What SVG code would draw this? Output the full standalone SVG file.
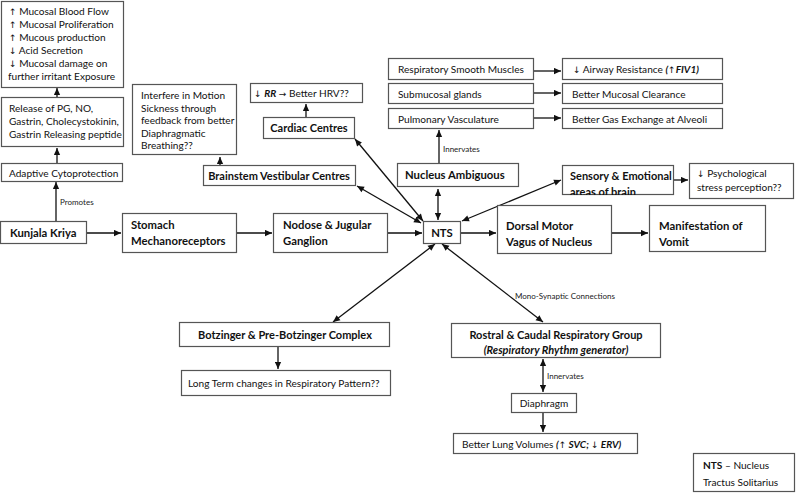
<svg xmlns="http://www.w3.org/2000/svg" width="796" height="493" viewBox="0 0 796 493">
<defs>
<style>
.box{fill:#fff;stroke:#555;stroke-width:1.2}
.t{font-family:Lato,"Liberation Sans",sans-serif;font-size:10.1px;fill:#111}
.b{font-family:Lato,"Liberation Sans",sans-serif;font-size:11.3px;font-weight:bold;fill:#111}
.bs{font-family:Lato,"Liberation Sans",sans-serif;font-size:11px;font-weight:bold;fill:#111}
.sm{font-family:Lato,"Liberation Sans",sans-serif;font-size:8px;fill:#222}
.bi{font-weight:bold;font-style:italic}
.ar{font-family:"DejaVu Sans",sans-serif;font-size:9px;font-weight:normal;font-style:normal}
.c{stroke:#111;stroke-width:1.3;fill:none}
.a{marker-end:url(#ah)}
.d{marker-end:url(#ah);marker-start:url(#ah)}
</style>
<marker id="ah" viewBox="0 0 10 10" refX="10" refY="5" markerWidth="8" markerHeight="7" markerUnits="userSpaceOnUse" orient="auto-start-reverse">
<path d="M0,0.5 L10,5 L0,9.5 z" fill="#111"/>
</marker>
<clipPath id="clipSens"><rect x="562" y="165" width="112" height="30"/></clipPath>
<clipPath id="clipRos"><rect x="451" y="323" width="210" height="33"/></clipPath>
</defs>

<g id="connectors">
<line class="c a" x1="87" y1="233" x2="121" y2="233"/>
<line class="c a" x1="237" y1="233" x2="272" y2="233"/>
<line class="c a" x1="388" y1="233" x2="422" y2="233"/>
<line class="c a" x1="461" y1="233" x2="496" y2="233"/>
<line class="c a" x1="612" y1="233" x2="648" y2="233"/>
<line class="c a" x1="56" y1="221" x2="56" y2="182"/>
<line class="c a" x1="57" y1="163" x2="57" y2="148"/>
<line class="c a" x1="57" y1="97" x2="57" y2="88"/>
<line class="c d" x1="355" y1="139" x2="423" y2="221"/>
<line class="c d" x1="357" y1="186" x2="421" y2="223"/>
<line class="c d" x1="438" y1="189" x2="438" y2="220"/>
<line class="c d" x1="561" y1="180" x2="462" y2="221"/>
<line class="c d" x1="333" y1="322" x2="435" y2="244"/>
<line class="c d" x1="543" y1="322" x2="442" y2="244"/>
<line class="c a" x1="439" y1="163" x2="439" y2="130"/>
<line class="c a" x1="534" y1="71" x2="561" y2="71"/>
<line class="c a" x1="534" y1="93" x2="561" y2="93"/>
<line class="c a" x1="534" y1="118" x2="561" y2="118"/>
<line class="c a" x1="674" y1="180" x2="688" y2="180"/>
<line class="c a" x1="306" y1="117" x2="306" y2="104"/>
<line class="c a" x1="220" y1="165" x2="220" y2="157"/>
<line class="c a" x1="278" y1="347" x2="278" y2="369"/>
<line class="c d" x1="543" y1="359" x2="543" y2="392"/>
<line class="c a" x1="543" y1="413" x2="543" y2="432"/>
<text class="sm" x="60" y="205">Promotes</text>
<text class="sm" x="443" y="152">Innervates</text>
<text class="sm" x="515" y="299">Mono-Synaptic Connections</text>
<text class="sm" x="547" y="379">Innervates</text>
</g>

<g id="effects">
<rect class="box" x="1.5" y="1.5" width="122" height="86"/>
<text class="t" x="9" y="15"><tspan class="ar">↑</tspan> Mucosal Blood Flow</text>
<text class="t" x="9" y="28"><tspan class="ar">↑</tspan> Mucosal Proliferation</text>
<text class="t" x="9" y="41"><tspan class="ar">↑</tspan> Mucous production</text>
<text class="t" x="9" y="54"><tspan class="ar">↓</tspan> Acid Secretion</text>
<text class="t" x="9" y="67"><tspan class="ar">↓</tspan> Mucosal damage on</text>
<text class="t" x="8" y="80">further irritant Exposure</text>
</g>

<g id="release">
<rect class="box" x="1.5" y="97.5" width="122" height="49"/>
<text class="t" x="9" y="112">Release of PG, NO,</text>
<text class="t" x="9" y="125">Gastrin, Cholecystokinin,</text>
<text class="t" x="9" y="138">Gastrin Releasing peptide</text>
</g>

<g id="adaptive">
<rect class="box" x="1.5" y="163.5" width="121" height="18"/>
<text class="t" x="9" y="176.5">Adaptive Cytoprotection</text>
</g>

<g id="kunjala">
<rect class="box" x="0.5" y="221.5" width="86" height="22"/>
<text class="b" x="10" y="237">Kunjala Kriya</text>
</g>

<g id="stomach">
<rect class="box" x="122.5" y="213.5" width="114" height="39"/>
<text class="b" x="131" y="229">Stomach</text>
<text class="b" x="131" y="245">Mechanoreceptors</text>
</g>

<g id="nodose">
<rect class="box" x="273.5" y="213.5" width="114" height="39"/>
<text class="b" x="283" y="229">Nodose &amp; Jugular</text>
<text class="b" x="283" y="245">Ganglion</text>
</g>

<g id="nts">
<rect class="box" x="423.5" y="221.5" width="37" height="22"/>
<text class="b" x="442" y="237" text-anchor="middle">NTS</text>
</g>

<g id="dorsal">
<rect class="box" x="497.5" y="205.5" width="114" height="48"/>
<text class="b" x="506" y="230">Dorsal Motor</text>
<text class="b" x="506" y="246">Vagus of Nucleus</text>
</g>

<g id="vomit">
<rect class="box" x="649.5" y="205.5" width="116" height="46"/>
<text class="b" x="659" y="230">Manifestation of</text>
<text class="b" x="659" y="246">Vomit</text>
</g>

<g id="sensory">
<rect class="box" x="562.5" y="165.5" width="111" height="29"/>
<g clip-path="url(#clipSens)">
<text class="bs" x="570" y="180">Sensory &amp; Emotional</text>
<text class="bs" x="570" y="195.5">areas of brain</text>
</g>
</g>

<g id="psych">
<rect class="box" x="689.5" y="163.5" width="104" height="35"/>
<text class="t" x="697" y="177"><tspan class="ar">↓</tspan> Psychological</text>
<text class="t" x="697" y="191">stress perception??</text>
</g>

<g id="nucleus-ambiguous">
<rect class="box" x="397.5" y="163.5" width="121" height="23"/>
<text class="b" x="405" y="179">Nucleus Ambiguous</text>
</g>

<g id="resp-smooth">
<rect class="box" x="388.5" y="58.5" width="145" height="21"/>
<text class="t" x="398" y="73">Respiratory Smooth Muscles</text>
</g>
<g id="submucosal">
<rect class="box" x="388.5" y="83.5" width="145" height="20"/>
<text class="t" x="398" y="97.5">Submucosal glands</text>
</g>
<g id="pulmonary">
<rect class="box" x="388.5" y="108.5" width="145" height="20"/>
<text class="t" x="398" y="122.5">Pulmonary Vasculature</text>
</g>
<g id="airway">
<rect class="box" x="562.5" y="58.5" width="160" height="21"/>
<text class="t" x="573" y="73"><tspan class="ar">↓</tspan> Airway Resistance <tspan class="bi">(<tspan class="ar" font-weight="bold">↑</tspan>FIV1)</tspan></text>
</g>
<g id="clearance">
<rect class="box" x="562.5" y="83.5" width="160" height="20"/>
<text class="t" x="572" y="97.5">Better Mucosal Clearance</text>
</g>
<g id="gas-exchange">
<rect class="box" x="562.5" y="108.5" width="160" height="20"/>
<text class="t" x="572" y="122.5">Better Gas Exchange at Alveoli</text>
</g>

<g id="cardiac">
<rect class="box" x="263.5" y="117.5" width="91" height="21"/>
<text class="bs" x="309" y="132" text-anchor="middle">Cardiac Centres</text>
</g>
<g id="hrv">
<rect class="box" x="250.5" y="83.5" width="112" height="19"/>
<text class="t" x="254" y="97"><tspan class="ar">↓</tspan> <tspan class="bi">RR</tspan> <tspan class="ar">→</tspan> Better HRV??</text>
</g>

<g id="interfere">
<rect class="box" x="132.5" y="84.5" width="104" height="70"/>
<text class="t" x="141" y="99">Interfere in Motion</text>
<text class="t" x="141" y="111.5">Sickness through</text>
<text class="t" x="141" y="124">feedback from better</text>
<text class="t" x="141" y="136.5">Diaphragmatic</text>
<text class="t" x="141" y="149">Breathing??</text>
</g>

<g id="brainstem">
<rect class="box" x="203.5" y="165.5" width="152" height="20"/>
<text class="bs" x="279" y="179.5" text-anchor="middle">Brainstem Vestibular Centres</text>
</g>

<g id="botzinger">
<rect class="box" x="179.5" y="322.5" width="210" height="24"/>
<text class="bs" x="285" y="338.5" text-anchor="middle">Botzinger &amp; Pre-Botzinger Complex</text>
</g>
<g id="long-term">
<rect class="box" x="181.5" y="370.5" width="209" height="25"/>
<text class="t" x="188" y="387">Long Term changes in Respiratory Pattern??</text>
</g>

<g id="rostral">
<rect class="box" x="451.5" y="323.5" width="209" height="34"/>
<g clip-path="url(#clipRos)">
<text class="bs" x="556" y="339" text-anchor="middle">Rostral &amp; Caudal Respiratory Group</text>
<text class="bs" x="556" y="354" text-anchor="middle" font-style="italic">(Respiratory Rhythm generator)</text>
</g>
</g>
<g id="diaphragm">
<rect class="box" x="511.5" y="393.5" width="65" height="19"/>
<text class="t" x="544" y="407" text-anchor="middle">Diaphragm</text>
</g>
<g id="lung">
<rect class="box" x="453.5" y="433.5" width="184" height="20"/>
<text class="t" x="462" y="447.5">Better Lung Volumes <tspan class="bi">(<tspan class="ar" font-weight="bold">↑</tspan> SVC; <tspan class="ar" font-weight="bold">↓</tspan> ERV)</tspan></text>
</g>

<g id="legend">
<rect class="box" x="693.5" y="453.5" width="101" height="38"/>
<text class="t" x="703" y="469" font-size="11.5"><tspan font-weight="bold">NTS</tspan> – Nucleus</text>
<text class="t" x="703" y="486" font-size="11.5">Tractus Solitarius</text>
</g>
</svg>
